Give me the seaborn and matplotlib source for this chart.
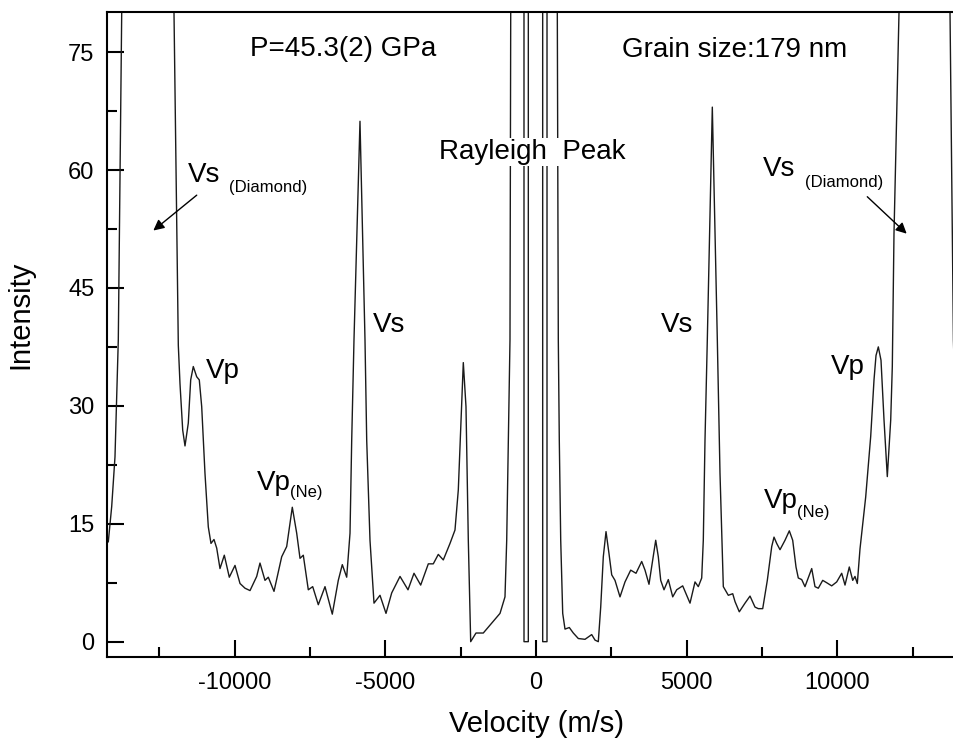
import pandas as pd
import matplotlib.pyplot as plt
import seaborn as sns

# data (velocity in m/s, intensity in counts)
velocity = [
    -14230, -14191, -14078, -13969, -13859, -13746, -12900, -12011, -11868, -11812,
    -11722, -11646, -11537, -11457, -11371, -11258, -11172, -11092, -10983, -10873,
    -10784, -10684, -10594, -10485, -10342, -10176, -9987, -9821, -9655, -9489,
    -9267, -9158, -8992, -8882, -8693, -8438, -8272, -8086, -7940, -7830,
    -7721, -7555, -7409, -7223, -7001, -6759, -6560, -6427, -6281, -6171,
    -6115, -6039, -5840, -5674, -5617, -5508, -5375, -5176, -4977, -4788,
    -4512, -4247, -4048, -3826, -3573, -3408, -3242, -3076, -2853, -2688,
    -2578, -2489, -2412, -2323, -2246, -2167, -1991, -1749, -1526, -1194,
    -1029, -972, -919, -863, -839, -620, -400, -398, -255, -253,
    220, 222, 365, 367, 690, 707, 740, 773, 820, 886,
    962, 1105, 1238, 1404, 1626, 1848, 1958, 2067, 2147, 2233,
    2323, 2422, 2512, 2621, 2787, 2953, 3142, 3318, 3507, 3617,
    3749, 3872, 3972, 4058, 4138, 4247, 4390, 4536, 4668, 4867,
    5110, 5276, 5385, 5498, 5551, 5607, 5684, 5850, 6016, 6105,
    6215, 6381, 6527, 6603, 6745, 6935, 7101, 7266, 7376, 7522,
    7675, 7821, 7897, 7986, 8096, 8262, 8405, 8517, 8627, 8703,
    8816, 8925, 9002, 9148, 9257, 9367, 9513, 9645, 9811, 9977,
    10143, 10253, 10395, 10508, 10584, 10661, 10750, 10939, 11105, 11215,
    11281, 11358, 11447, 11547, 11656, 11769, 11822, 11878, 12044, 12900,
    13737, 13850, 13960,
]
intensity = [
    12.6, 12.7, 17.2, 23.5, 38.4, 80, 160, 80, 37.7, 32.8,
    26.9, 24.9, 27.8, 33.3, 35.0, 33.7, 33.3, 29.9, 21.4, 14.6,
    12.5, 13.0, 11.9, 9.3, 11.0, 8.2, 9.7, 7.4, 6.8, 6.5,
    8.3, 10.0, 7.8, 8.2, 6.4, 10.8, 12.1, 17.1, 13.8, 10.6,
    11.0, 6.6, 7.0, 4.7, 7.0, 3.5, 7.8, 9.8, 8.2, 13.8,
    25.6, 38.4, 66.2, 38.4, 25.6, 12.9, 4.9, 5.9, 3.6, 6.2,
    8.3, 6.6, 8.7, 7.2, 9.9, 9.9, 11.1, 10.4, 12.5, 14.2,
    19.3, 27.8, 35.5, 29.9, 12.9, 0.0, 1.1, 1.1, 2.1, 3.6,
    5.7, 12.9, 25.6, 38.4, 80, 400, 400, 0, 0, 400,
    400, 0, 0, 400, 400, 80, 38.4, 25.6, 12.9, 3.6,
    1.6, 1.8, 1.1, 0.4, 0.3, 0.9, 0.2, 0.0, 4.4, 10.8,
    14.0, 11.2, 8.5, 7.8, 5.7, 7.6, 9.1, 8.7, 10.2, 9.1,
    7.3, 10.4, 12.9, 10.8, 7.8, 6.6, 7.9, 5.7, 6.6, 7.1,
    4.9, 7.6, 7.0, 8.1, 12.9, 25.6, 38.4, 68.0, 38.4, 21.4,
    7.0, 5.9, 6.1, 5.1, 3.8, 4.9, 5.8, 4.4, 4.2, 4.2,
    7.8, 12.1, 13.3, 12.5, 11.7, 12.9, 14.1, 12.9, 9.5, 8.1,
    7.9, 7.0, 7.8, 9.3, 7.0, 6.8, 7.8, 7.5, 7.1, 7.6,
    8.7, 7.2, 9.5, 7.8, 8.3, 7.4, 11.8, 18.4, 26.1, 33.3,
    36.4, 37.5, 35.8, 28.2, 21.0, 28.2, 35.0, 51.9, 80, 160,
    80, 38.4, 23.5,
]

x_ticks = [-10000, -5000, 0, 5000, 10000]
y_ticks = [0, 15, 30, 45, 60, 75]

df = pd.DataFrame({"Velocity": velocity, "Intensity": intensity})

sns.set_style("ticks")
plt.rcParams["font.family"] = ["Liberation Sans", "DejaVu Sans"]
plt.rcParams["axes.unicode_minus"] = False
plt.rcParams["text.color"] = "black"
plt.rcParams["axes.labelcolor"] = "black"

fig = plt.figure(figsize=(9.54, 7.39), dpi=100)
ax = fig.add_axes([0.11216, 0.11096, 0.88784, 0.87280])

sns.lineplot(data=df, x="Velocity", y="Intensity", ax=ax, color="#1a1a1a",
             linewidth=1.0, sort=False, estimator=None)

ax.set_xlim(-14234, 13869)
ax.set_ylim(-1.95, 80.1)
ax.set_xticks(x_ticks)
ax.set_xticklabels([str(v) for v in x_ticks])
ax.set_yticks(y_ticks)
ax.set_xticks([-12500, -7500, -2500, 2500, 7500, 12500], minor=True)
ax.set_yticks([7.5, 22.5, 37.5, 52.5, 67.5], minor=True)
ax.tick_params(which="major", direction="in", length=12, width=1.5,
               labelsize=17, pad=9, colors="black")
ax.tick_params(which="minor", direction="in", length=7, width=1.5,
               colors="black")
ax.tick_params(axis="x", which="major", pad=11)
for s in ["left", "bottom", "top"]:
    ax.spines[s].set_linewidth(1.5)
    ax.spines[s].set_color("black")
ax.spines["right"].set_visible(False)

ax.set_xlabel("Velocity (m/s)", fontsize=21, color="black")
ax.set_ylabel("Intensity", fontsize=21, color="black")
ax.xaxis.set_label_coords(0.507, -0.082)
ax.yaxis.set_label_coords(-0.086, 0.53)

# annotations
ax.text(-9489, 74.5, "P=45.3(2) GPa", fontsize=20)
ax.text(2863, 74.4, "Grain size:179 nm", fontsize=20)
ax.text(-3208, 61.4, "Rayleigh  Peak", fontsize=20,
        bbox=dict(facecolor="white", edgecolor="none", pad=1))

ax.text(-11537, 58.5, "Vs", fontsize=20)
ax.text(-10176, 57.2, "(Diamond)", fontsize=12)
ax.text(7542, 59.3, "Vs", fontsize=20)
ax.text(8915, 57.8, "(Diamond)", fontsize=12)
ax.annotate("", xy=(-12697, 52.3), xytext=(-11257, 56.8),
            arrowprops=dict(arrowstyle="-|>", color="black", lw=1,
                            mutation_scale=16, shrinkA=0, shrinkB=0))
ax.annotate("", xy=(12299, 51.9), xytext=(10992, 56.6),
            arrowprops=dict(arrowstyle="-|>", color="black", lw=1,
                            mutation_scale=16, shrinkA=0, shrinkB=0))

ax.text(-5418, 39.4, "Vs", fontsize=20)
ax.text(4158, 39.4, "Vs", fontsize=20)
ax.text(-10949, 33.6, "Vp", fontsize=20)
ax.text(9780, 34.0, "Vp", fontsize=20)

ax.text(-9267, 19.3, "Vp", fontsize=20)
ax.text(-8162, 18.4, "(Ne)", fontsize=12)
ax.text(7565, 17.0, "Vp", fontsize=20)
ax.text(8670, 15.8, "(Ne)", fontsize=12)

fig.savefig("out.png", dpi=100)
